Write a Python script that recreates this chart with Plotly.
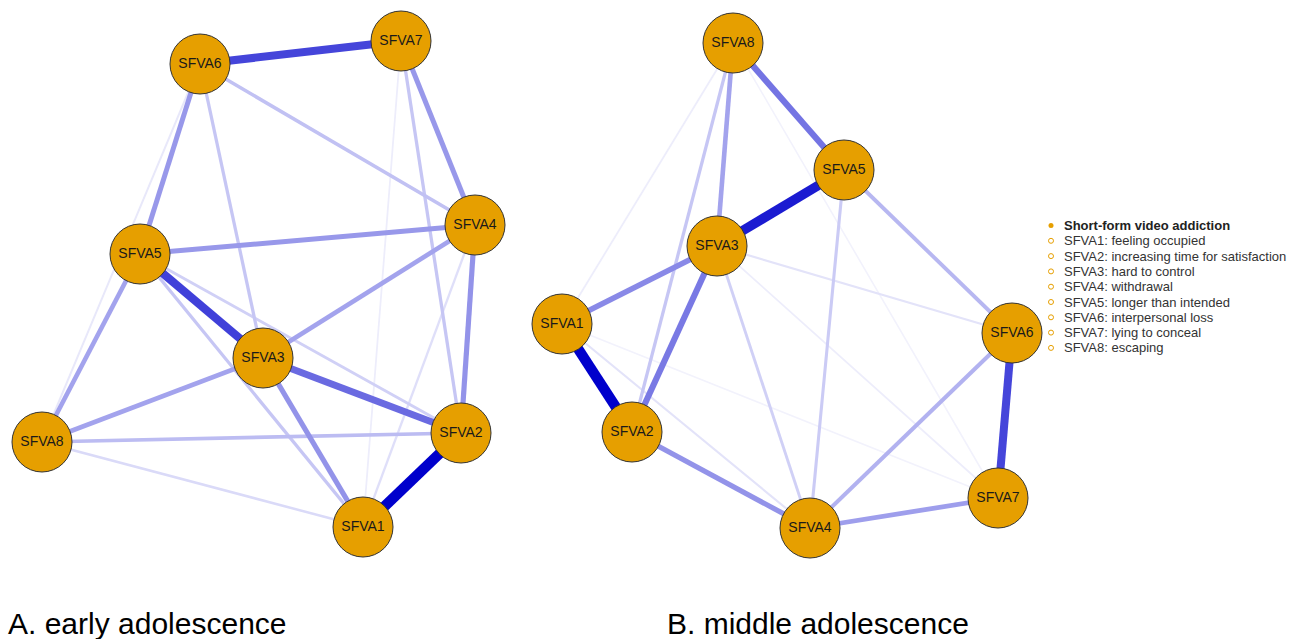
import plotly.graph_objects as go

# ---------------- data ----------------
node_names = ["SFVA1", "SFVA2", "SFVA3", "SFVA4", "SFVA5", "SFVA6", "SFVA7", "SFVA8"]

# Panel A (early adolescence) node layout (pixel coords of the layout)
a_x = [363, 461, 263, 475, 140, 200, 401, 42]
a_y = [527, 433, 358, 225, 254, 64, 41, 442]

# Panel B (middle adolescence) node layout
b_x = [562, 632, 717, 810, 844, 1012, 998, 733]
b_y = [324, 432, 246, 528, 170, 333, 498, 43]

# Edges: (from, to, weight)
a_edges_from = [1, 6, 5, 3, 3, 6, 7, 5, 4, 4, 3, 5, 8, 6, 6, 7, 5, 5, 8, 4, 6, 7]
a_edges_to   = [2, 7, 3, 2, 1, 5, 4, 4, 2, 3, 8, 8, 2, 4, 3, 2, 1, 2, 1, 1, 8, 1]
a_edges_w    = [0.50, 0.37, 0.38, 0.30, 0.22, 0.21, 0.21, 0.21, 0.22, 0.19, 0.19, 0.19,
                0.14, 0.13, 0.12, 0.12, 0.12, 0.10, 0.08, 0.07, 0.05, 0.04]

b_edges_from = [1, 5, 6, 8, 3, 3, 2, 4, 8, 4, 5, 8, 5, 3, 3, 1, 8, 3, 8, 1]
b_edges_to   = [2, 3, 7, 5, 2, 1, 4, 7, 3, 6, 6, 2, 4, 4, 6, 4, 1, 7, 7, 7]
b_edges_w    = [0.50, 0.45, 0.37, 0.28, 0.27, 0.24, 0.22, 0.20, 0.19, 0.16, 0.15, 0.12,
                0.11, 0.10, 0.06, 0.06, 0.04, 0.04, 0.03, 0.03]

legend_title = "Short-form video addiction"
legend_items = ["SFVA1: feeling occupied", "SFVA2: increasing time for satisfaction",
                "SFVA3: hard to control", "SFVA4: withdrawal", "SFVA5: longer than intended",
                "SFVA6: interpersonal loss", "SFVA7: lying to conceal", "SFVA8: escaping"]

panel_titles = ["A. early adolescence", "B. middle adolescence"]
panel_title_x = [6, 665]

# ---------------- styling ----------------
NODE_COLOR = "#E69F00"
W_MAX = 0.5


def edge_style(w):
    t = min(w / W_MAX, 1.0)
    a = t ** 1.05
    r = round(255 * (1 - a))
    g = round(255 * (1 - a))
    b = round(255 - a * (255 - 204))
    return f"rgb({r},{g},{b})", 1.0 + 9.5 * t


fig = go.Figure()


def add_network(xs, ys, efrom, eto, ew):
    order = sorted(range(len(ew)), key=lambda i: ew[i])
    for i in order:
        a, b = efrom[i] - 1, eto[i] - 1
        col, wid = edge_style(ew[i])
        fig.add_trace(go.Scatter(x=[xs[a], xs[b]], y=[ys[a], ys[b]], mode="lines",
                                 line=dict(color=col, width=wid), hoverinfo="skip",
                                 showlegend=False))
    fig.add_trace(go.Scatter(x=xs, y=ys, mode="markers+text", text=node_names,
                             textposition="middle center",
                             textfont=dict(family="Liberation Sans, Arial", size=14, color="#1a1a1a"),
                             marker=dict(size=60, color=NODE_COLOR, line=dict(color="#333333", width=1)),
                             hoverinfo="text", showlegend=False))


add_network(a_x, a_y, a_edges_from, a_edges_to, a_edges_w)
add_network(b_x, b_y, b_edges_from, b_edges_to, b_edges_w)

# legend
leg_x = 1051
leg_y0 = 225.5
leg_dy = 15.3
fig.add_trace(go.Scatter(x=[leg_x], y=[leg_y0], mode="markers",
                         marker=dict(size=5, color=NODE_COLOR, symbol="circle"),
                         hoverinfo="skip", showlegend=False))
fig.add_trace(go.Scatter(x=[leg_x] * len(legend_items),
                         y=[leg_y0 + leg_dy * (k + 1) for k in range(len(legend_items))],
                         mode="markers",
                         marker=dict(size=5, color=NODE_COLOR, symbol="circle-open", line=dict(width=1)),
                         hoverinfo="skip", showlegend=False))
fig.add_annotation(x=1062, y=leg_y0, text=f"<b>{legend_title}</b>", showarrow=False,
                   xanchor="left", yanchor="middle",
                   font=dict(family="Liberation Sans, Arial", size=13, color="#222222"))
for k, item in enumerate(legend_items):
    fig.add_annotation(x=1062, y=leg_y0 + leg_dy * (k + 1), text=item, showarrow=False,
                       xanchor="left", yanchor="middle",
                       font=dict(family="Liberation Sans, Arial", size=13, color="#333333"))

for t, x in zip(panel_titles, panel_title_x):
    fig.add_annotation(x=x, y=623, text=t, showarrow=False, xanchor="left", yanchor="middle",
                       font=dict(family="Liberation Sans, Arial", size=30, color="#000000"))

fig.update_layout(width=1304, height=639, margin=dict(l=0, r=0, t=0, b=0),
                  paper_bgcolor="white", plot_bgcolor="white", showlegend=False)
fig.update_xaxes(range=[0, 1304], visible=False, fixedrange=True)
fig.update_yaxes(range=[639, 0], visible=False, fixedrange=True)

fig.write_html("out.html", config={"displayModeBar": False},
               post_script="document.body.style.margin='0';")
